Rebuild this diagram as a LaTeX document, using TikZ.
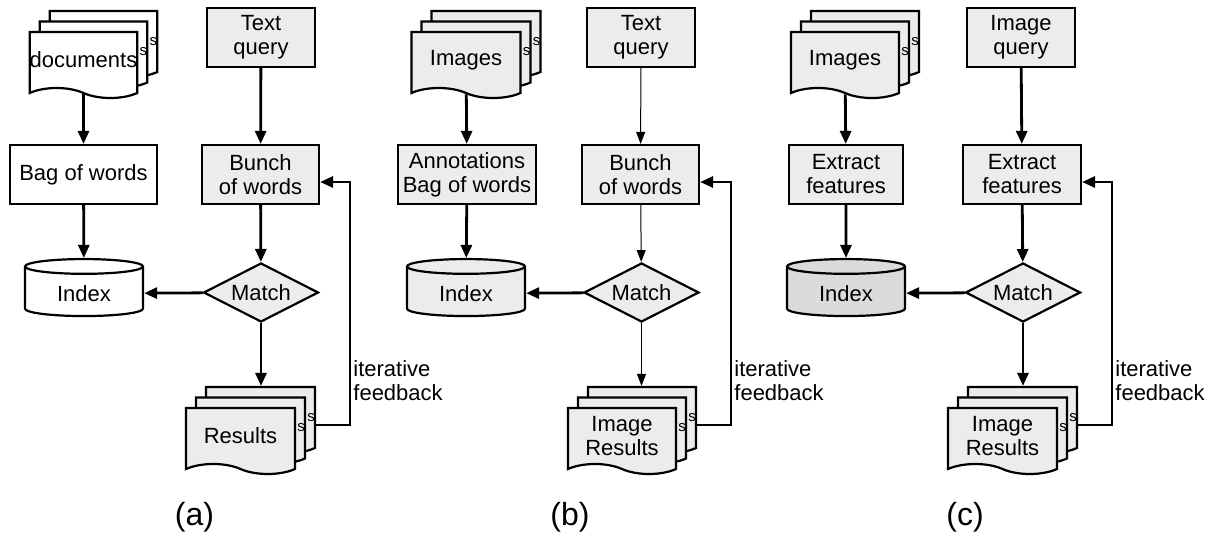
\documentclass[tikz,border=0pt]{standalone}
\usepackage{fontspec}
\setmainfont{Liberation Sans}
\usetikzlibrary{arrows.meta,shapes.geometric,shapes.symbols,shadows}

\tikzset{
  box/.style={draw,line width=1.1pt,fill=gray!15,minimum height=29.5pt,align=center,inner xsep=2pt},
  plain/.style={fill=white},
  doc/.style={tape,tape bend top=none,tape bend bottom=out and in,tape bend height=5pt,
    draw,line width=1.1pt,fill=#1,minimum height=33pt,align=center,inner xsep=0pt,
    general shadow={shadow xshift=10pt,shadow yshift=10.5pt,draw,line width=1.1pt,fill=#1},
    general shadow={shadow xshift=5pt,shadow yshift=5.25pt,draw,line width=1.1pt,fill=#1}},
  doc/.default=gray!15,
  db/.style={cylinder,shape border rotate=90,shape aspect=0.22,draw,line width=1.1pt,
    fill=gray!15,minimum width=59pt,minimum height=28.5pt},
  dec/.style={diamond,aspect=2,draw,line width=1.1pt,fill=gray!15,inner sep=0pt,
    minimum width=57.5pt,minimum height=29.5pt},
  sglyph/.style={font=\fontsize{7.5}{7.5}\selectfont,inner sep=0pt},
  arr/.style={-{Triangle[length=6.5pt,width=5.5pt]},line width=1.4pt},
  thinarr/.style={-{Triangle[length=6pt,width=4.5pt]},line width=0.5pt},
  fbtext/.style={right,align=left,inner sep=1pt},
  panelcap/.style={font=\fontsize{16}{18}\selectfont}
}

\begin{document}
\begin{tikzpicture}[x=0.5pt,y=-0.5pt,every node/.append style={font=\fontsize{11}{12}\selectfont}]
\useasboundingbox (0,0) rectangle (1215,536);

\node[doc=white,minimum width=53.5pt] (docsA) at (83.5,60) {documents};
\node[box,minimum width=54pt] (queryA) at (261,37.5) {Text\\query};
\node[box,plain,minimum width=73.5pt] (bagA) at (83.5,174.5) {Bag of words};
\node[box,minimum width=58.5pt] (bunchA) at (260.5,174.5) {Bunch\\of words};
\node[db,plain] (indexA) at (84,293.5) {Index};
\node[dec] (matchA) at (261,292.5) {Match};
\node[doc,minimum width=54.5pt] (resA) at (240.5,436) {Results};
\path (matchA |- resA.north) ++(0,-21) coordinate (topA);
\coordinate (fbA) at (350,300);
\draw[arr] (docsA) -- (bagA);
\draw[arr] (bagA) -- (indexA);
\draw[arr] (queryA) -- (bunchA);
\draw[arr] (bunchA) -- (matchA);
\draw[arr] (matchA) -- (indexA);
\draw[arr] (matchA) -- (topA);
\draw[arr] ([shift={(19,-11)}]resA.east) -| (fbA) |- ([yshift=-3.75pt]bunchA.east);
\node[fbtext] (fbtextA) at (351,381) {iterative\\feedback};
\node[panelcap] (capA) at (194.5,517) {(a)};

\node[doc,minimum width=54.5pt] (docsB) at (466,60) {Images};
\node[box,minimum width=54pt] (queryB) at (641,37.5) {Text\\query};
\node[box,minimum width=69pt] (bagB) at (467,174.5) {Annotations\\Bag of words};
\node[box,minimum width=58.5pt] (bunchB) at (640.5,174.5) {Bunch\\of words};
\node[db] (indexB) at (466,293.5) {Index};
\node[dec] (matchB) at (641.5,292.5) {Match};
\node[doc,minimum width=54pt] (resB) at (622,436) {Image\\Results};
\path (matchB |- resB.north) ++(0,-21) coordinate (topB);
\coordinate (fbB) at (731,300);
\draw[arr] (docsB) -- (bagB);
\draw[arr] (bagB) -- (indexB);
\draw[thinarr] (queryB) -- (bunchB);
\draw[thinarr] (bunchB) -- (matchB);
\draw[arr] (matchB) -- (indexB);
\draw[thinarr] (matchB) -- (topB);
\draw[arr] ([shift={(19,-11)}]resB.east) -| (fbB) |- ([yshift=-3.75pt]bunchB.east);
\node[fbtext] (fbtextB) at (732,381) {iterative\\feedback};
\node[panelcap] (capB) at (570,517) {(b)};

\node[doc,minimum width=54pt] (docsC) at (845,60) {Images};
\node[box,minimum width=54pt] (queryC) at (1021,37.5) {Image\\query};
\node[box,minimum width=57pt] (bagC) at (846,174.5) {Extract\\features};
\node[box,minimum width=59pt] (bunchC) at (1022,174.5) {Extract\\features};
\node[db,fill=gray!28] (indexC) at (846,293.5) {Index};
\node[dec] (matchC) at (1023,292.5) {Match};
\node[doc,minimum width=54.5pt] (resC) at (1002.5,436) {Image\\Results};
\path (matchC |- resC.north) ++(0,-21) coordinate (topC);
\coordinate (fbC) at (1112,300);
\draw[arr] (docsC) -- (bagC);
\draw[arr] (bagC) -- (indexC);
\draw[arr] (queryC) -- (bunchC);
\draw[arr] (bunchC) -- (matchC);
\draw[arr] (matchC) -- (indexC);
\draw[arr] (matchC) -- (topC);
\draw[arr] ([shift={(19,-11)}]resC.east) -| (fbC) |- ([yshift=-3.75pt]bunchC.east);
\node[fbtext] (fbtextC) at (1113,381) {iterative\\feedback};
\node[panelcap] (capC) at (965,517) {(c)};

\foreach \n in {docsA,resA,docsB,resB,docsC,resC}{
  \node[sglyph] (\n-s1) at ([shift={(5,-8)}]\n.east) {s};
  \node[sglyph] (\n-s2) at ([shift={(15,-18)}]\n.east) {s};
}
\end{tikzpicture}
\end{document}
